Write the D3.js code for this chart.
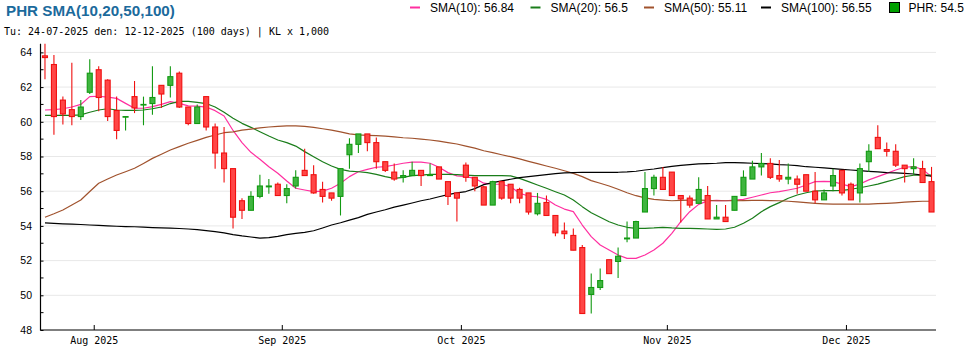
<!DOCTYPE html>
<html><head><meta charset="utf-8">
<script src="https://cdn.jsdelivr.net/npm/d3@7"></script>
<style>
body{margin:0;background:#fff;}
svg{display:block;}
</style></head><body>
<svg id="c" width="970" height="350"></svg>
<script>
// ---- data ----
const dates = [
"24-07","25-07","28-07","29-07","30-07","31-07",
"01-08","04-08","05-08","06-08","07-08","08-08","11-08","12-08","13-08","14-08","15-08","18-08","19-08","20-08","21-08","22-08","25-08","26-08","27-08","28-08","29-08",
"03-09","04-09","05-09","08-09","09-09","10-09","11-09","12-09","15-09","16-09","17-09","18-09","19-09","22-09","23-09","24-09","25-09","26-09","29-09","30-09",
"01-10","02-10","03-10","06-10","07-10","08-10","09-10","10-10","13-10","14-10","15-10","16-10","17-10","20-10","21-10","22-10","23-10","24-10","27-10","28-10","29-10","30-10","31-10",
"03-11","04-11","05-11","06-11","07-11","10-11","11-11","12-11","13-11","14-11","17-11","18-11","19-11","20-11","21-11","24-11","25-11","26-11","27-11","28-11",
"01-12","02-12","03-12","04-12","05-12","08-12","09-12","10-12","11-12","12-12"];
const openV = [63.8,63.3,61.25,60.7,60.3,61.7,63.0,62.4,60.65,60.28,61.45,60.98,61.05,62.1,62.1,62.8,60.85,59.9,61.45,59.7,
58.2,57.3,55.45,54.9,55.7,56.25,56.4,55.75,56.3,57.2,56.95,56.1,55.9,55.7,58.1,58.7,59.3,58.8,57.7,57.1,
56.8,56.9,57.2,56.9,57.4,56.55,55.9,57.5,56.8,56.25,55.2,56.55,56.4,56.1,55.9,54.7,55.35,54.6,53.7,53.45,
52.75,50.05,50.45,52.05,51.95,53.25,53.3,54.8,56.15,56.8,57.1,55.75,55.6,55.3,55.75,54.4,54.5,54.9,55.75,56.7,
57.4,57.6,56.9,56.7,56.7,56.95,56.0,55.5,56.3,57.2,56.4,55.9,57.7,59.1,58.4,58.3,57.5,57.3,57.3,56.55];
const highV = [64.5,63.85,61.45,63.4,61.25,63.6,63.2,62.45,61.45,60.3,62.35,61.45,63.2,62.1,63.2,62.9,60.85,61.0,61.45,59.9,
59.7,57.3,55.6,56.0,56.95,56.7,56.5,56.4,57.2,58.45,57.5,56.55,55.9,57.3,59.05,59.3,59.3,59.1,57.7,57.6,
57.2,57.7,57.2,57.6,57.4,56.55,55.9,57.65,56.8,56.3,56.6,56.6,56.4,56.2,55.9,55.9,55.75,54.6,54.2,53.85,
52.9,51.25,51.55,52.05,52.75,54.25,54.3,57.1,56.95,57.4,57.1,55.75,55.75,56.8,56.3,55.2,55.2,55.7,57.2,57.75,
58.2,57.9,57.8,57.6,56.9,56.95,57.1,56.1,57.3,57.2,56.5,57.6,58.7,59.8,58.8,58.7,57.5,57.9,57.75,57.4];
const lowV = [62.45,59.25,59.85,59.8,60.1,61.6,60.6,60.05,59.0,59.5,60.5,59.8,60.4,60.8,61.4,60.8,59.8,59.9,59.5,57.3,
56.5,53.85,54.4,54.9,55.6,55.85,55.75,55.3,56.15,56.9,55.85,55.35,55.45,54.6,57.3,58.2,58.3,57.3,57.1,56.6,
56.5,56.9,56.3,56.9,56.7,55.2,54.25,56.55,56.0,55.2,55.2,55.5,55.3,55.3,54.65,54.6,54.6,53.4,53.25,52.6,
48.95,48.95,50.3,51.25,51.0,53.05,53.3,54.8,55.75,56.1,55.75,54.2,55.05,55.3,54.4,54.4,54.25,54.9,55.75,56.7,
56.9,56.7,56.55,56.4,55.85,56.0,55.3,55.5,56.0,55.75,55.5,55.35,57.1,58.45,58.0,57.4,56.5,56.95,56.5,54.8];
const closeV = [63.7,60.3,60.45,60.3,60.85,62.8,61.4,60.3,59.5,60.3,60.8,61.0,61.4,61.6,62.6,60.85,59.9,60.85,59.7,58.2,
57.3,54.5,54.9,55.7,56.3,56.3,55.75,56.15,56.8,56.9,55.9,55.7,55.6,57.3,58.7,59.3,58.8,57.7,57.2,56.7,
56.9,57.2,56.9,56.95,56.7,55.7,55.6,56.8,56.3,55.2,56.55,55.6,55.6,55.6,54.8,55.3,54.6,53.6,53.55,52.6,
48.95,50.45,50.85,51.25,52.25,53.3,54.25,56.15,56.8,56.1,55.75,55.55,55.2,56.1,54.4,54.5,54.25,55.7,56.8,57.4,
57.6,56.8,56.7,56.8,56.4,56.0,55.5,55.9,56.9,55.9,55.5,57.3,58.3,58.45,58.3,57.5,57.3,57.4,56.5,54.8];
const sma10 = [60.68,60.7,60.75,60.85,61.0,61.45,61.47,61.42,61.35,61.06,60.78,60.78,60.87,61.0,61.16,61.06,60.92,60.9,60.85,60.64,
60.33,59.5,58.8,58.24,57.84,57.41,57.03,56.59,56.17,56.07,55.97,56.0,56.17,56.46,56.84,57.12,57.26,57.38,57.42,57.51,
57.61,57.67,57.67,57.61,57.38,57.07,56.88,56.84,56.74,56.46,56.4,56.4,56.26,55.88,55.72,55.68,55.53,55.2,54.97,54.82,
54.05,53.38,52.9,52.61,52.32,52.13,52.13,52.32,52.61,53.0,53.57,54.24,54.82,55.24,55.44,55.47,55.45,55.49,55.53,55.65,
55.78,55.91,55.97,56.07,56.17,56.36,56.55,56.57,56.55,56.41,56.26,56.41,56.65,56.84,57.03,57.22,57.38,57.42,57.25,56.84];
const sma20 = [60.37,60.37,60.37,60.37,60.4,60.55,60.68,60.75,60.68,60.66,60.66,60.68,60.75,60.85,61.05,61.18,61.18,61.12,61.05,60.85,
60.55,60.2,59.91,59.68,59.43,59.18,58.95,58.8,58.6,58.28,57.99,57.7,57.45,57.26,57.16,57.12,57.07,56.97,56.84,56.74,
56.8,56.9,56.93,56.97,56.97,56.97,56.95,56.93,56.9,56.9,56.9,56.9,56.88,56.74,56.55,56.36,56.17,55.97,55.78,55.49,
55.11,54.76,54.5,54.24,54.05,53.92,53.86,53.86,53.88,53.92,53.88,53.86,53.86,53.84,53.82,53.8,53.82,53.92,54.15,54.44,
54.82,55.11,55.34,55.59,55.78,55.91,56.01,56.03,56.03,56.05,56.11,56.2,56.3,56.41,56.55,56.69,56.84,56.92,56.93,56.92];
const sma50 = [54.5,54.7,54.92,55.2,55.49,55.98,56.46,56.7,56.93,57.12,57.32,57.6,57.89,58.13,58.37,58.57,58.76,58.93,59.1,59.24,
59.37,59.42,59.52,59.58,59.65,59.7,59.74,59.76,59.76,59.74,59.68,59.6,59.52,59.42,59.3,59.25,59.22,59.2,59.17,59.13,
59.08,59.05,59.0,58.95,58.88,58.8,58.72,58.6,58.48,58.33,58.22,58.1,57.99,57.86,57.72,57.59,57.45,57.32,57.18,57.03,
56.84,56.61,56.46,56.3,56.11,55.91,55.74,55.61,55.53,55.49,55.45,55.47,55.49,55.49,55.47,55.45,55.45,55.45,55.46,55.47,
55.47,55.46,55.45,55.42,55.38,55.34,55.3,55.27,55.25,55.25,55.25,55.25,55.26,55.28,55.3,55.33,55.37,55.4,55.42,55.42];
const sma100 = [54.17,54.14,54.12,54.1,54.08,54.05,54.03,54.0,53.98,53.96,53.95,53.93,53.9,53.88,53.87,53.85,53.82,53.78,53.73,53.67,
53.6,53.5,53.42,53.36,53.3,53.32,53.4,53.5,53.57,53.63,53.72,53.88,54.05,54.18,54.33,54.48,54.66,54.8,54.93,55.08,
55.2,55.32,55.45,55.55,55.68,55.8,55.9,55.98,56.15,56.38,56.49,56.59,56.69,56.78,56.84,56.9,56.95,57.01,57.05,57.07,
57.09,57.09,57.09,57.09,57.09,57.11,57.15,57.22,57.28,57.36,57.43,57.49,57.53,57.57,57.59,57.61,57.65,57.65,57.63,57.61,
57.59,57.57,57.53,57.51,57.47,57.41,57.38,57.34,57.3,57.26,57.22,57.18,57.14,57.11,57.07,57.05,57.03,56.99,56.93,56.86];
const tickDates = ["01-08","03-09","01-10","03-11","01-12"];
const tickLabels = ["Aug 2025","Sep 2025","Oct 2025","Nov 2025","Dec 2025"];
const yMajor = [48,50,52,54,56,58,60,62,64];
const yMinor = [49,51,53,55,57,59,61,63];
const legendLabels = ["SMA(10): 56.84","SMA(20): 56.5","SMA(50): 55.11","SMA(100): 56.55","PHR: 54.5"];
const titleText = "PHR SMA(10,20,50,100)";
const subtitleText = "Tu: 24-07-2025 den: 12-12-2025 (100 days) | KL x 1,000";

// ---- drawing ----
(function () {
const svg = d3.select("#c");
const pL = 40.5, pR = 936, pT = 43.7, pB = 330;
const x = d3.scaleBand().domain(dates).range([pL, pR]).padding(0);
const y = d3.scaleLinear().domain([48, 64.5]).range([pB, pT]);
const step = x.step();
const cx = d => x(d) + step / 2;

const lineColors = ["#ff2fa0", "#1a7d1a", "#a0522d", "#000000"];
const smaSeries = [sma10, sma20, sma50, sma100];

// grid
svg.append("g").selectAll("line").data(yMajor.filter(v => v > 48)).join("line")
  .attr("x1", pL).attr("x2", pR).attr("y1", d => y(d)).attr("y2", d => y(d))
  .attr("stroke", "#e8e8e8").attr("stroke-width", 1);

// title & subtitle
svg.append("text").attr("x", 6).attr("y", 16).text(titleText)
  .attr("font-family", "Liberation Sans, Arial, sans-serif").attr("font-weight", "bold")
  .attr("font-size", 15.2).attr("fill", "#1b6a9c");
svg.append("text").attr("x", 4).attr("y", 35).text(subtitleText)
  .attr("font-family", "DejaVu Sans Mono, monospace").attr("font-size", 10).attr("fill", "#000");

// legend
const legX = [410, 530.5, 644, 761, 889];
const leg = svg.append("g").attr("font-family", "Liberation Sans, Arial, sans-serif").attr("font-size", 12);
legendLabels.forEach((t, i) => {
  if (i < 4) {
    leg.append("line").attr("x1", legX[i]).attr("x2", legX[i] + 10).attr("y1", 7.5).attr("y2", 7.5)
      .attr("stroke", lineColors[i]).attr("stroke-width", 2);
    leg.append("text").attr("x", legX[i] + 20).attr("y", 11.7).text(t).attr("fill", "#000");
  } else {
    leg.append("rect").attr("x", legX[i] + 0.5).attr("y", 2.5).attr("width", 10).attr("height", 10)
      .attr("fill", "#00a000").attr("stroke", "#000").attr("stroke-width", 1);
    leg.append("text").attr("x", legX[i] + 19.5).attr("y", 11.7).text(t).attr("fill", "#000");
  }
});

// SMA lines
smaSeries.forEach((s, k) => {
  const line = d3.line().x((d, i) => cx(dates[i])).y(d => y(d));
  svg.append("path").datum(s).attr("d", line).attr("fill", "none")
    .attr("stroke", lineColors[k]).attr("stroke-width", 1.2).attr("stroke-linejoin", "round");
});

// candles
const idx = d3.range(dates.length);
const up = i => closeV[i] >= openV[i];
const g = svg.append("g");
g.selectAll("line").data(idx).join("line")
  .attr("x1", i => cx(dates[i])).attr("x2", i => cx(dates[i]))
  .attr("y1", i => y(highV[i])).attr("y2", i => y(lowV[i]))
  .attr("stroke", i => up(i) ? "#129a12" : "#f01010").attr("stroke-width", 1.1);
g.selectAll("rect").data(idx).join("rect")
  .attr("x", i => cx(dates[i]) - 2.5).attr("width", 5)
  .attr("y", i => y(Math.max(openV[i], closeV[i])))
  .attr("height", i => Math.max(0.6, Math.abs(y(openV[i]) - y(closeV[i]))))
  .attr("fill", i => up(i) ? "#3fb53f" : "#ff4646")
  .attr("stroke", i => up(i) ? "#129a12" : "#f01010").attr("stroke-width", 1.1);

// axes
const yAx = svg.append("g").attr("transform", `translate(${pL},0)`)
  .call(d3.axisLeft(y).tickValues(yMajor).tickSizeInner(-3).tickSizeOuter(0).tickPadding(8.5).tickFormat(d3.format("d")));
yAx.select(".domain").remove();
yAx.selectAll("text").attr("font-family", "Liberation Sans, Arial, sans-serif").attr("font-size", 10.5).attr("fill", "#000");
yAx.selectAll(".tick line").attr("stroke", "#000");
svg.append("g").selectAll("line").data(yMinor).join("line")
  .attr("x1", pL).attr("x2", pL + 3).attr("y1", d => y(d)).attr("y2", d => y(d)).attr("stroke", "#000");

const xTickScale = x.copy().range([pL - step / 2, pR - step / 2]);
const xAx = svg.append("g").attr("transform", `translate(0,${pB})`)
  .call(d3.axisBottom(xTickScale).tickValues(tickDates).tickSizeInner(-5).tickSizeOuter(0).tickPadding(7)
    .tickFormat((d, i) => tickLabels[i]));
xAx.select(".domain").remove();
xAx.selectAll("text").attr("font-family", "DejaVu Sans Mono, monospace").attr("font-size", 10).attr("fill", "#000");
xAx.selectAll(".tick line").attr("stroke", "#000");

svg.append("line").attr("x1", pL).attr("x2", pL).attr("y1", pT).attr("y2", pB + 0.5)
  .attr("stroke", "#000").attr("stroke-width", 1.2);
svg.append("line").attr("x1", pL).attr("x2", pR).attr("y1", pB).attr("y2", pB)
  .attr("stroke", "#000").attr("stroke-width", 1.2);
})();
</script>
</body></html>
